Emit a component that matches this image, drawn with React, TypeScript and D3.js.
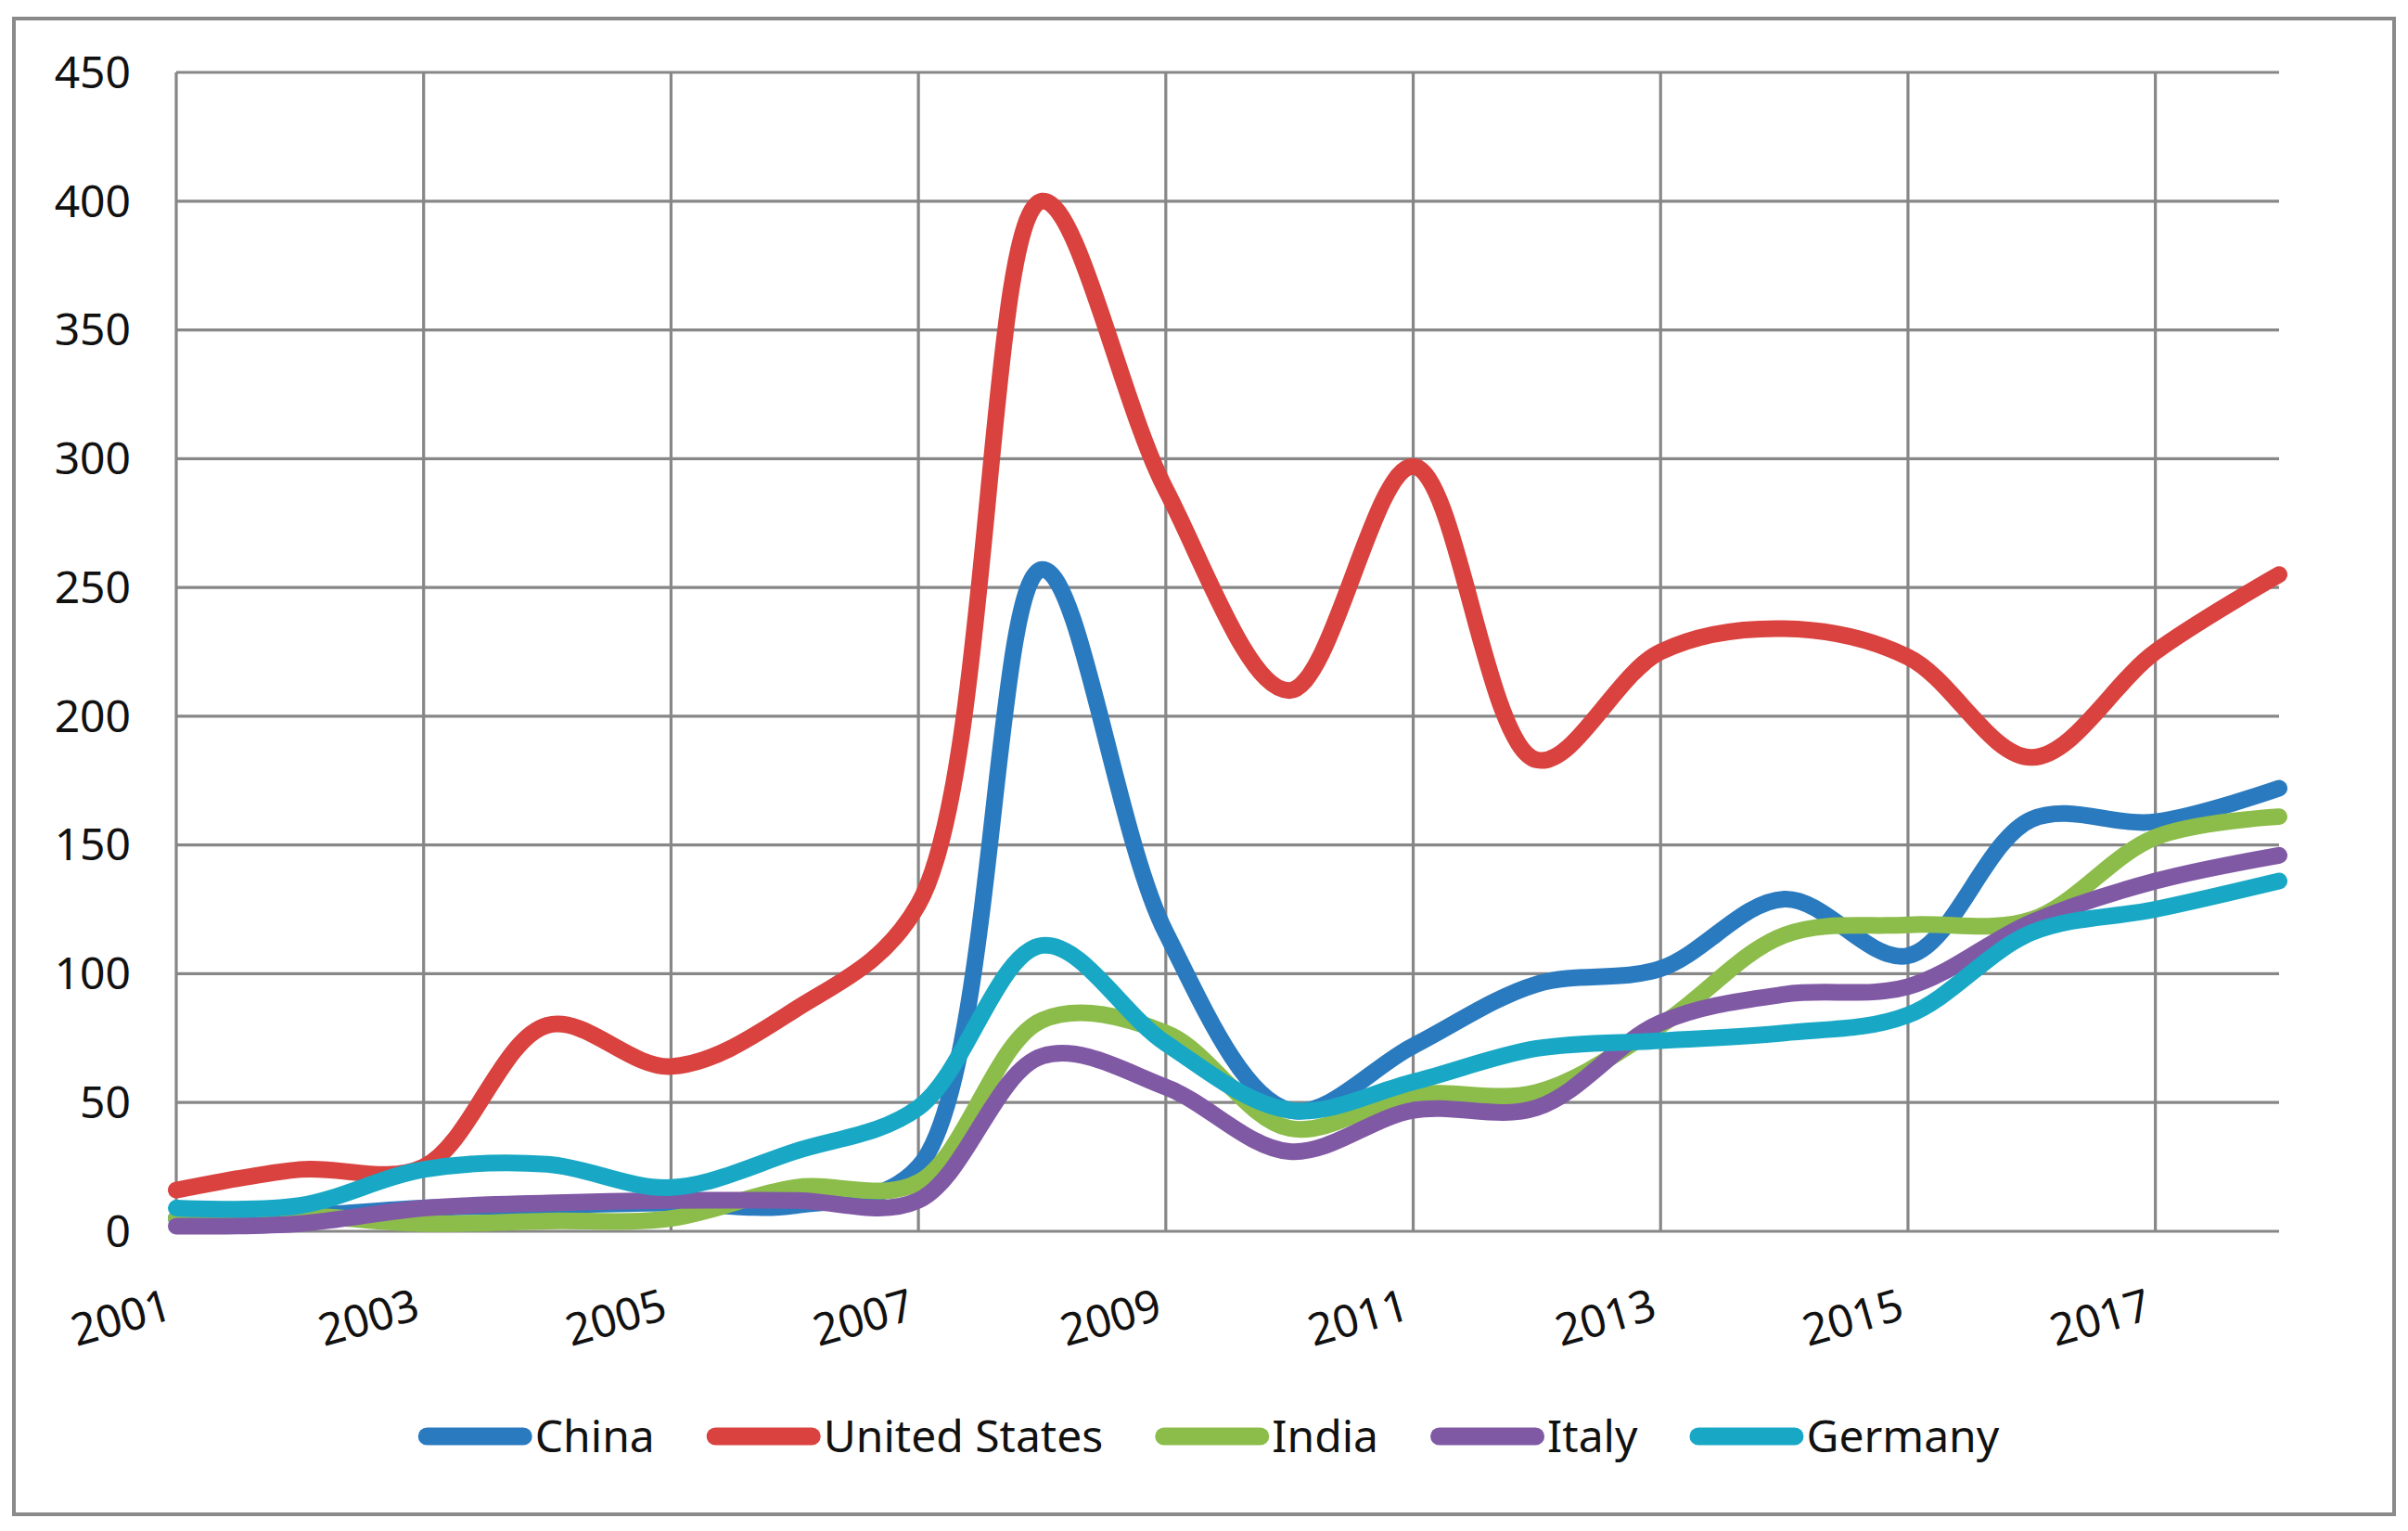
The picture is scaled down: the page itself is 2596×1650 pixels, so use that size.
import React, { useEffect, useRef } from 'react';
import * as d3 from 'd3';

const years = [2001, 2002, 2003, 2004, 2005, 2006, 2007, 2008, 2009, 2010, 2011, 2012, 2013, 2014, 2015, 2016, 2017, 2018];
const china = [5, 6, 9, 10, 11, 10, 25, 257, 116, 47, 72, 96, 102, 129, 107, 160, 159, 172];
const unitedStates = [16, 24, 25, 80, 64, 86, 127, 400, 288, 210, 297, 183, 225, 234, 223, 184, 225, 255];
const india = [5, 6, 3, 4, 5, 17, 19, 82, 77, 40, 53, 54, 80, 115, 119, 121, 153, 161];
const italy = [2, 3, 9, 11, 12, 12, 12, 68, 56, 31, 47, 48, 81, 92, 95, 120, 136, 146];
const germany = [9, 10, 24, 26, 17, 31, 48, 111, 73, 47, 58, 71, 74, 77, 84, 116, 125, 136];

const seriesNames = ['China', 'United States', 'India', 'Italy', 'Germany'];
const seriesValues = [china, unitedStates, india, italy, germany];
const seriesColors = ['#2a7abf', '#d9423e', '#8cbd4a', '#8059a5', '#18a8c5'];

const yTicks = [0, 50, 100, 150, 200, 250, 300, 350, 400, 450];
const xTickYears = [2001, 2003, 2005, 2007, 2009, 2011, 2013, 2015, 2017];

const W = 2596;
const H = 1650;
const FONT = '"Noto Sans", "Open Sans", sans-serif';

export default function App() {
  const ref = useRef<SVGSVGElement>(null);

  useEffect(() => {
    document.body.style.margin = '0';
    const svg = d3.select(ref.current);
    svg.selectAll('*').remove();

    const left = 190, right = 2457, top = 78, bottom = 1327;
    const x = d3.scaleLinear().domain([years[0], years[years.length - 1]]).range([left, right]);
    const y = d3.scaleLinear().domain([0, 450]).range([bottom, top]);

    svg.append('rect').attr('width', W).attr('height', H).attr('fill', '#fff');

    // outer border
    svg.append('rect')
      .attr('x', 15).attr('y', 20).attr('width', 2566).attr('height', 1612)
      .attr('fill', 'none').attr('stroke', '#8a8a8a').attr('stroke-width', 4);

    const grid = svg.append('g').attr('stroke', '#878787').attr('stroke-width', 3.2);
    grid.selectAll('line.h').data(yTicks).enter().append('line')
      .attr('x1', left).attr('x2', right)
      .attr('y1', (d) => y(d)).attr('y2', (d) => y(d));
    grid.selectAll('line.v').data(xTickYears).enter().append('line')
      .attr('x1', (d) => x(d)).attr('x2', (d) => x(d))
      .attr('y1', top).attr('y2', bottom);

    // y labels
    svg.append('g').selectAll('text').data(yTicks).enter().append('text')
      .attr('x', 141).attr('y', (d) => y(d))
      .attr('dy', '0.35em')
      .attr('text-anchor', 'end')
      .attr('font-family', FONT).attr('font-size', 48).attr('fill', '#111')
      .text((d) => String(d));

    // x labels
    svg.append('g').selectAll('text').data(xTickYears).enter().append('text')
      .attr('transform', (d) => `translate(${x(d) - 2},${bottom + 94}) rotate(-16)`)
      .attr('text-anchor', 'end')
      .attr('font-family', FONT).attr('font-size', 48).attr('fill', '#111')
      .text((d) => String(d));

    // lines
    const line = d3.line<number>()
      .x((_, i) => x(years[i]))
      .y((d) => y(d))
      .curve(d3.curveCatmullRom.alpha(0.5));

    const lines = svg.append('g');
    seriesValues.forEach((vals, i) => {
      lines.append('path')
        .attr('d', line(vals) || '')
        .attr('fill', 'none')
        .attr('stroke', seriesColors[i])
        .attr('stroke-width', 18)
        .attr('stroke-linejoin', 'round')
        .attr('stroke-linecap', 'round');
    });

    // legend
    const legend = svg.append('g');
    const ly = 1548;
    const sampleLen = 104;
    const cap = 9.5;
    const gapText = 3;
    const gapEntry = 56;
    let cursor = 0;
    const items: { g: any; w: number }[] = [];
    seriesNames.forEach((name, i) => {
      const g = legend.append('g');
      g.append('line')
        .attr('x1', cap).attr('x2', cap + sampleLen)
        .attr('y1', ly).attr('y2', ly)
        .attr('stroke', seriesColors[i]).attr('stroke-width', 19)
        .attr('stroke-linecap', 'round');
      const t = g.append('text')
        .attr('x', cap * 2 + sampleLen + gapText).attr('y', ly)
        .attr('dy', '0.35em')
        .attr('font-family', FONT).attr('font-size', 48).attr('fill', '#111')
        .text(name);
      const tw = (t.node() as SVGTextElement).getComputedTextLength();
      const w = cap * 2 + sampleLen + gapText + tw;
      items.push({ g, w });
    });
    const total = items.reduce((s, it) => s + it.w, 0) + gapEntry * (items.length - 1);
    cursor = 1303 - total / 2;
    items.forEach((it) => {
      it.g.attr('transform', `translate(${cursor},0)`);
      cursor += it.w + gapEntry;
    });
  }, []);

  return <svg ref={ref} width={W} height={H} style={{ display: 'block' }} />;
}
